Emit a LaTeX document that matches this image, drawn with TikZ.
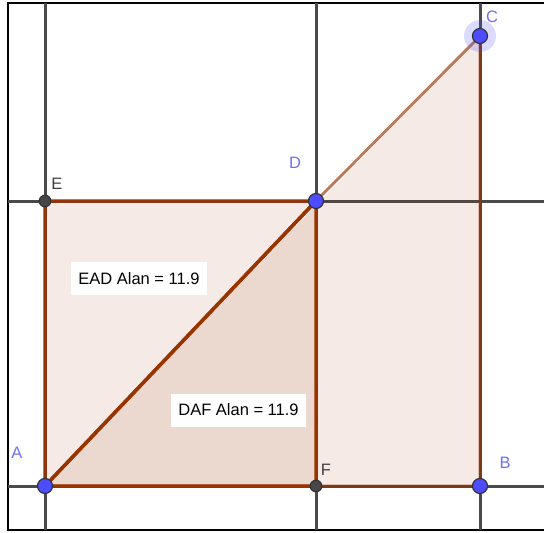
\documentclass[tikz,border=0pt]{standalone}
\usepackage{fontspec}
\setmainfont{Liberation Sans}
\usetikzlibrary{positioning}
\definecolor{ggbrown}{HTML}{993300}
\definecolor{ptblue}{HTML}{4D4DFF}
\definecolor{lblblue}{HTML}{6E6EFF}
\definecolor{gridgray}{HTML}{4A4A4A}

\begin{document}
\begin{tikzpicture}[
    x=1pt, y=-1pt,
    font=\fontsize{16.5}{19}\selectfont,
    gridline/.style={draw=gridgray, line width=3pt},
    side/.style={draw=ggbrown, line width=3.4pt, line join=round},
    faint/.style={draw=ggbrown, draw opacity=0.65, line width=2.8pt, line join=round},
    tri/.style={fill=ggbrown, fill opacity=0.1},
    bluept/.style={circle, draw=black!80, line width=1.2pt, fill=ptblue, inner sep=0pt, minimum size=15pt},
    darkpt/.style={circle, draw=black!80, line width=1.2pt, fill=black!72, inner sep=0pt, minimum size=11.5pt},
    ptlabel/.style={text=lblblue, inner sep=0pt},
    darklabel/.style={text=black!75, inner sep=0pt},
    areabox/.style={fill=white, inner xsep=7pt, minimum height=33pt}
]
    \useasboundingbox (0,0) rectangle (544,533);
    \clip (0,0) rectangle (544,533);

    % Points
    \coordinate (A) at (45,486);
    \coordinate (F) at (316,486);
    \coordinate (B) at (480,486);
    \coordinate (E) at (45,201);
    \coordinate (D) at (316,201);
    \coordinate (C) at (480,36);

    % Frame
    \draw[black, line width=2pt] (8,3) rectangle (560,530);

    % Grid
    \foreach \gx in {45,316,480}
        \draw[gridline] (\gx,3) -- (\gx,530);
    \foreach \gy in {201,486}
        \draw[gridline] (8,\gy) -- (544,\gy);

    % Polygons
    \fill[tri] (A) -- (B) -- (C) -- cycle;
    \fill[tri] (E) -- (A) -- (D) -- cycle;
    \fill[tri] (D) -- (A) -- (F) -- cycle;
    \draw[faint] (A) -- (B) -- (C) -- (D);
    \draw[side] (E) -- (A) -- (D) -- cycle;
    \draw[side] (D) -- (A) -- (F) -- cycle;

    % Area labels
    \node[areabox] (ead) at (139,278.5) {EAD Alan = 11.9};
    \node[areabox] (daf) at (238.5,410) {DAF Alan = 11.9};

    % Dots
    \fill[ptblue, opacity=0.2] (C) circle (16pt);
    \node[bluept] (pA) at (A) {};
    \node[bluept] (pB) at (B) {};
    \node[bluept] (pC) at (C) {};
    \node[bluept] (pD) at (D) {};
    \node[darkpt] (pE) at (E) {};
    \node[darkpt] (pF) at (F) {};

    % Point names
    \node[ptlabel] (lA) at (17,453) {A};
    \node[ptlabel] (lB) at (505,463) {B};
    \node[ptlabel] (lC) at (492,17) {C};
    \node[ptlabel] (lD) at (295,163) {D};
    \node[darklabel] (lE) at (57,184) {E};
    \node[darklabel] (lF) at (326,470) {F};
\end{tikzpicture}
\end{document}
